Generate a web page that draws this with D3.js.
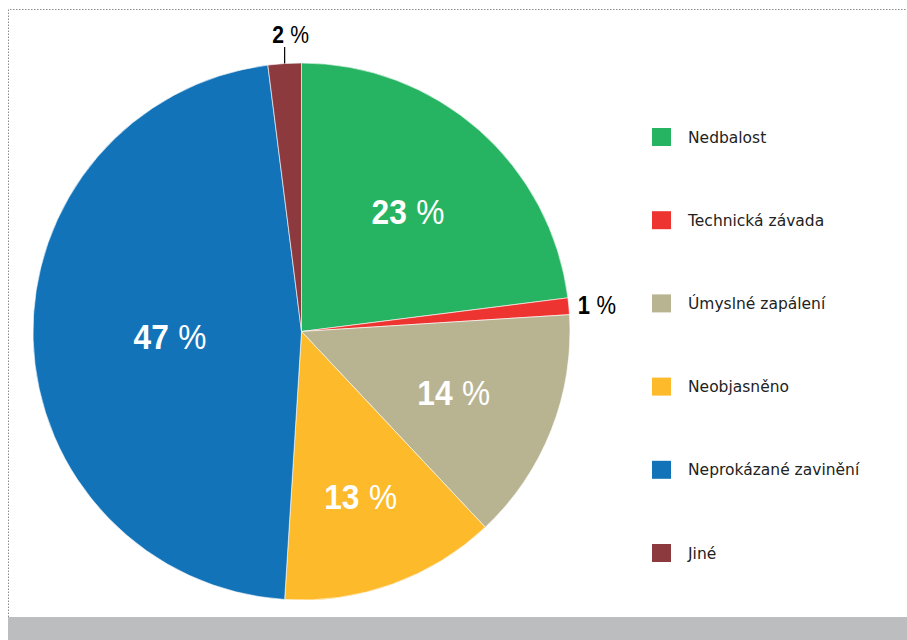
<!DOCTYPE html>
<html><head><meta charset="utf-8">
<script src="https://cdn.jsdelivr.net/npm/d3@7"></script>
<style>body{margin:0;background:#fff}svg{display:block}</style>
</head><body>
<script>
const categories = ["Nedbalost","Technická závada","Úmyslné zapálení","Neobjasněno","Neprokázané zavinění","Jiné"];
const values = [23, 1, 14, 13, 47, 2];
const colors = ["#27b462","#ee3431","#b8b492","#fdba2b","#1273b9","#8c3a3d"];

const W = 907, H = 640;
const svg = d3.select("body").append("svg").attr("width", W).attr("height", H);

// frame
svg.append("rect").attr("x", 8).attr("y", 617).attr("width", W - 8).attr("height", H - 617).attr("fill", "#bcbdbf");
svg.append("path").attr("d", `M8.5,617 V9.5 H${W}`).attr("fill", "none")
  .attr("stroke", "#8a8a8a").attr("stroke-width", 1).attr("stroke-dasharray", "1.5,1.5");

const cx = 301.5, cy = 331.5, R = 268.5;
const g = svg.append("g").attr("transform", `translate(${cx},${cy})`);
const pie = d3.pie().sort(null).value(d => d);
const arcs = pie(values);
const arc = d3.arc().innerRadius(0).outerRadius(R);

g.selectAll("path.slice").data(arcs).join("path").attr("class", "slice")
  .attr("d", arc).attr("fill", (d, i) => colors[i])
  .attr("stroke", "#fff").attr("stroke-width", 0.6);

const numFont = "'Liberation Sans',Arial,sans-serif";
function label(x, y, v, size, anchor, fill) {
  const t = g.append("text")
    .attr("transform", `translate(${x},${y}) scale(0.88,1)`)
    .attr("dy", "0.36em").attr("text-anchor", anchor).attr("fill", fill)
    .attr("font-family", numFont).attr("font-size", size);
  t.append("tspan").attr("font-weight", "bold").text(v);
  t.append("tspan").attr("font-weight", "normal")
    .attr("dx", size * 0.3).text("%");
  return t;
}

// inside labels
const inFactor = {0: 0.60, 2: 0.61, 3: 0.65, 4: 0.49};
arcs.forEach((d, i) => {
  const a = (d.startAngle + d.endAngle) / 2;
  if (inFactor[i] !== undefined) {
    const r = R * inFactor[i];
    label(r * Math.sin(a), -r * Math.cos(a), values[i], 36, "middle", "#fff");
  } else if (i === 1) {
    const r = R + 9;
    label(r * Math.sin(a), -r * Math.cos(a), values[i], 25, "start", "#000");
  } else {
    const x = R * Math.sin(a);
    g.append("line").attr("x1", x).attr("x2", x).attr("y1", -R * Math.cos(a)).attr("y2", -R - 16)
      .attr("stroke", "#000").attr("stroke-width", 1.2);
    label(x + 6, -R - 29, values[i], 24, "middle", "#000");
  }
});

// legend
const ly = d3.scalePoint().domain(categories).range([137, 553]);
const leg = svg.append("g");
categories.forEach((c, i) => {
  leg.append("rect").attr("x", 652).attr("y", ly(c) - 9).attr("width", 19).attr("height", 18).attr("fill", colors[i]);
  leg.append("text").attr("x", 688).attr("y", ly(c)).attr("dy", "0.36em")
    .attr("font-family", "'DejaVu Sans',sans-serif").attr("font-size", 15.5).attr("fill", "#222").text(c);
});
</script>
</body></html>
